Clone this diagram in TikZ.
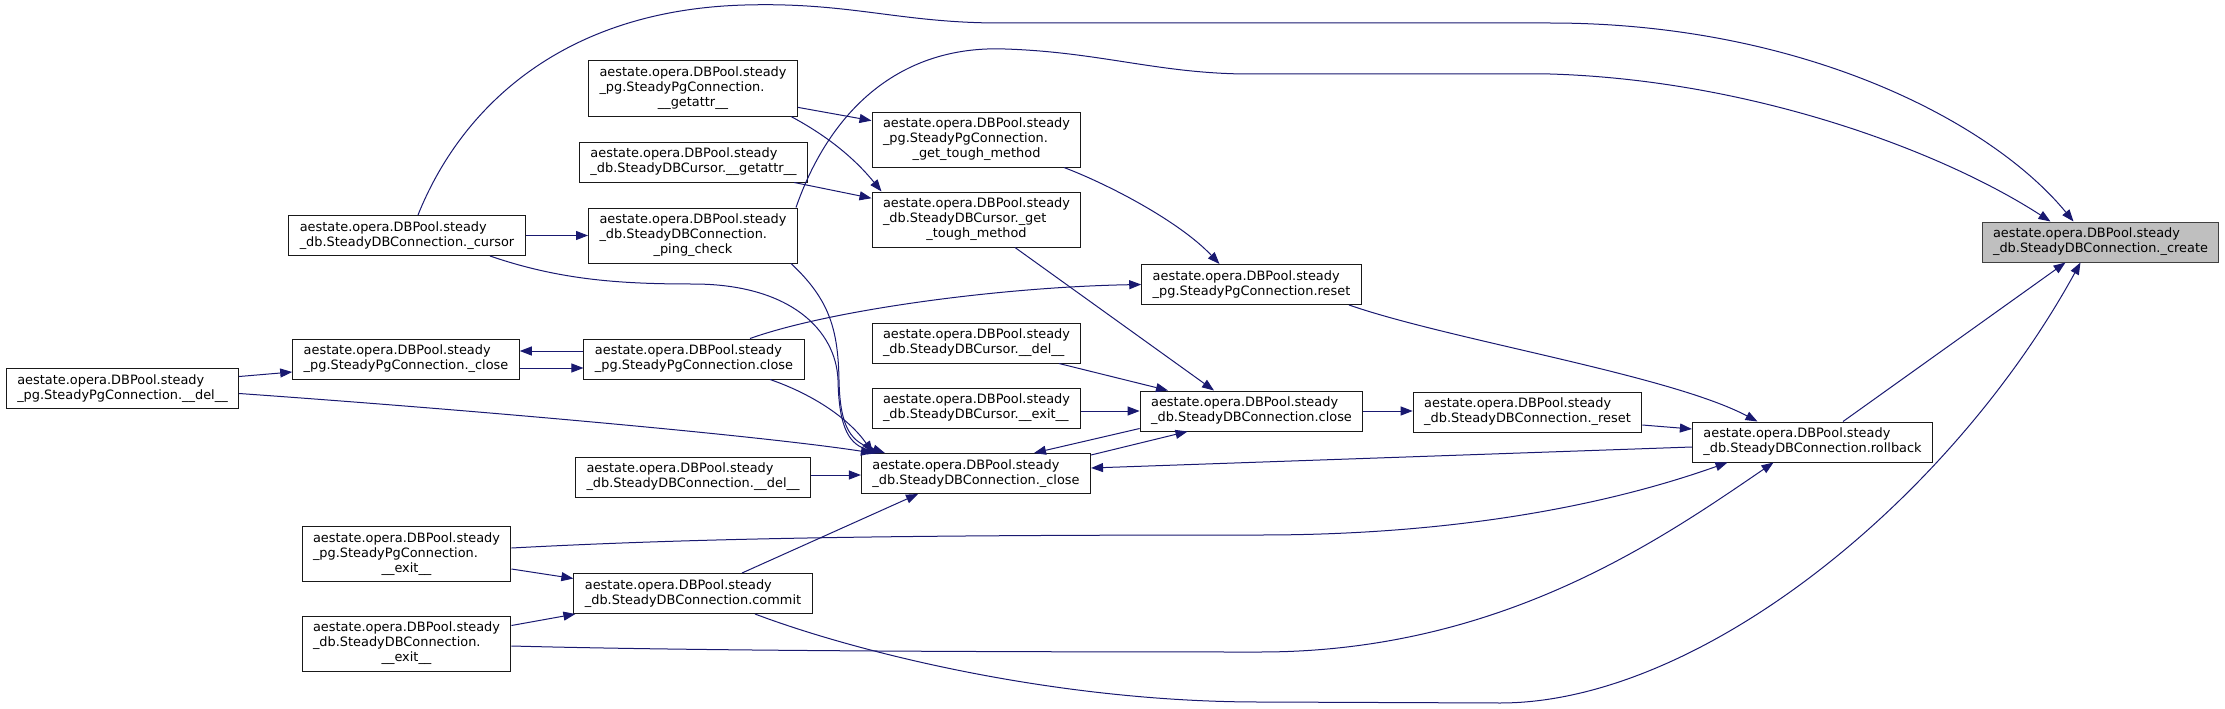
\documentclass[tikz,border=0pt]{standalone}
\usepackage{fontspec}
\setmainfont{DejaVu Sans}
\usepackage{tikz}
\usetikzlibrary{arrows.meta}
\definecolor{edgeblue}{HTML}{191970}
\definecolor{rootgray}{HTML}{BFBFBF}
\newcommand{\dbp}{aestate.opera.DBPool.steady}
\newcommand{\twol}[2]{\begin{tabular}{@{}l@{}}#1\\#2\end{tabular}}
\newcommand{\threel}[3]{\begin{tabular}{@{}l@{}}#1\\#2\\\multicolumn{1}{@{}c@{}}{#3}\end{tabular}}

\begin{document}
\begin{tikzpicture}[x=1pt,y=-1pt,
  every node/.style={font=\fontsize{12.9}{15}\selectfont},
  fn/.style={draw=black!90,fill=white,line width=1pt,inner xsep=11pt,inner ysep=5pt},
  ed/.style={draw=edgeblue,line width=1pt,-{Triangle[length=12pt,width=9pt]}}]
\useasboundingbox (0,0) rectangle (2225,709);

\node[fn,draw=black!75,fill=rootgray] (create) at (2100.5,242) {\twol{\dbp}{\_db.SteadyDBConnection.\_create}};
\node[fn] (cursor) at (407,235.5) {\twol{\dbp}{\_db.SteadyDBConnection.\_cursor}};
\node[fn] (pgGetattr) at (693,88.5) {\threel{\dbp}{\_pg.SteadyPgConnection.}{\_\_getattr\_\_}};
\node[fn] (pgTough) at (976.5,139.5) {\threel{\dbp}{\_pg.SteadyPgConnection.}{\_get\_tough\_method}};
\node[fn] (curGetattr) at (693.5,162) {\twol{\dbp}{\_db.SteadyDBCursor.\_\_getattr\_\_}};
\node[fn] (curTough) at (976.5,219.5) {\threel{\dbp}{\_db.SteadyDBCursor.\_get}{\_tough\_method}};
\node[fn] (ping) at (693,235.5) {\threel{\dbp}{\_db.SteadyDBConnection.}{\_ping\_check}};
\node[fn] (pgReset) at (1251.5,284.5) {\twol{\dbp}{\_pg.SteadyPgConnection.reset}};
\node[fn] (pgUClose) at (406,359) {\twol{\dbp}{\_pg.SteadyPgConnection.\_close}};
\node[fn] (pgClose) at (694,359) {\twol{\dbp}{\_pg.SteadyPgConnection.close}};
\node[fn] (pgDel) at (122.5,388.5) {\twol{\dbp}{\_pg.SteadyPgConnection.\_\_del\_\_}};
\node[fn] (curDel) at (976.5,343) {\twol{\dbp}{\_db.SteadyDBCursor.\_\_del\_\_}};
\node[fn] (curExit) at (976.5,408) {\twol{\dbp}{\_db.SteadyDBCursor.\_\_exit\_\_}};
\node[fn] (dbClose) at (1251.5,411) {\twol{\dbp}{\_db.SteadyDBConnection.close}};
\node[fn] (dbReset) at (1527.5,412) {\twol{\dbp}{\_db.SteadyDBConnection.\_reset}};
\node[fn] (dbDel) at (693,477) {\twol{\dbp}{\_db.SteadyDBConnection.\_\_del\_\_}};
\node[fn] (dbUClose) at (976,473.5) {\twol{\dbp}{\_db.SteadyDBConnection.\_close}};
\node[fn] (rollback) at (1812.5,442) {\twol{\dbp}{\_db.SteadyDBConnection.rollback}};
\node[fn] (pgExit) at (406.5,554) {\threel{\dbp}{\_pg.SteadyPgConnection.}{\_\_exit\_\_}};
\node[fn] (commit) at (693,593.5) {\twol{\dbp}{\_db.SteadyDBConnection.commit}};
\node[fn] (dbExit) at (406.5,643.5) {\threel{\dbp}{\_db.SteadyDBConnection.}{\_\_exit\_\_}};

% upper part
\draw[ed] (cursor) -- (ping);
\draw[ed] (pgGetattr) -- (pgTough);
\draw[ed] (curGetattr) -- (curTough);
\draw[ed] ([xshift=-7pt]pgGetattr.south east) .. controls (835,140) and (860,165) .. ([xshift=-95pt]curTough.north);
\draw[ed] ([xshift=-2pt]ping.north east) .. controls (830,110) and (900,45) .. (1005,49) .. controls (1100,52) and (1160,74) .. (1250,74) -- (1550,74) .. controls (1750,80) and (1940,150) .. ([xshift=-50pt]create.north);
\draw[ed] ([xshift=11pt]cursor.north) .. controls (460,110) and (560,10) .. (745,5) .. controls (850,2) and (900,23) .. (1000,23) -- (1550,23) .. controls (1800,23) and (1990,120) .. ([xshift=-27pt]create.north);
\draw[ed] ([xshift=87.5pt]pgTough.south) .. controls (1110,185) and (1180,222) .. ([xshift=-32pt]pgReset.north);
\draw[ed] ([xshift=38.5pt]curTough.south) -- ([xshift=-37.5pt]dbClose.north);
\draw[ed] ([xshift=56pt]pgClose.north) .. controls (830,310) and (1000,287) .. (pgReset.west);

% the close calls
\draw[ed] ([yshift=8pt]pgClose.west) -- ([yshift=8pt]pgUClose.east);
\draw[ed] ([yshift=-9pt]pgUClose.east) -- ([yshift=-9pt]pgClose.west);
\draw[ed] ([yshift=12pt]pgDel.east) -- ([yshift=-13pt]pgUClose.west);
\draw[ed] ([yshift=-5pt]pgDel.east) .. controls (500,412) and (770,437) .. ([xshift=12pt]dbUClose.north west);
\draw[ed] ([xshift=83pt]cursor.south) .. controls (560,280) and (620,284) .. (693,284) .. controls (790,284) and (836,330) .. (838,380) .. controls (839,430) and (850,445) .. ([xshift=19pt]dbUClose.north west);
\draw[ed] ([xshift=98pt]ping.south) .. controls (830,300) and (838,330) .. (839,380) .. controls (840,430) and (852,442) .. ([xshift=24pt]dbUClose.north west);
\draw[ed] ([xshift=76pt]pgClose.south) .. controls (815,395) and (850,420) .. ([xshift=12pt]dbUClose.north west);
\draw[ed] ([xshift=82.5pt]curDel.south) -- ([xshift=-83.5pt]dbClose.north);
\draw[ed] ([yshift=-3pt]curExit.east) -- ([yshift=-3pt]curExit.east -| dbClose.west);
\draw[ed] ([yshift=3pt]dbClose.south west) -- ([xshift=58pt]dbUClose.north);
\draw[ed] ([yshift=-2pt]dbUClose.north east) -- ([xshift=-64pt]dbClose.south);
\draw[ed] ([yshift=2pt]dbDel.east) -- ([yshift=2pt]dbDel.east -| dbUClose.west);
\draw[ed] (dbClose.east) -- (dbClose.east -| dbReset.west);

% rollback and commit
\draw[ed] ([yshift=-13pt]dbReset.east) -- ([yshift=13pt]rollback.west);
\draw[ed] ([xshift=97.5pt]pgReset.south) .. controls (1450,340) and (1670,375) .. ([xshift=-55pt]rollback.north);
\draw[ed] ([yshift=-5pt]rollback.west) -- ([yshift=5.5pt]dbUClose.east);
\draw[ed] ([xshift=30.5pt]rollback.north) -- ([xshift=-35pt]create.south);
\draw[ed] ([xshift=62pt]commit.south) .. controls (850,650) and (1050,702) .. (1260,702) -- (1500,703) .. controls (1700,703) and (1950,500) .. ([xshift=-20pt]create.south);
\draw[ed] ([xshift=49pt]commit.north) -- ([xshift=-58pt]dbUClose.south);
\draw[ed] ([yshift=-15pt]pgExit.east) -- ([yshift=15pt]commit.west);
\draw[ed] ([yshift=18pt]dbExit.east) -- ([xshift=2pt]commit.south west);
\draw[ed] ([yshift=6pt]pgExit.east) .. controls (700,538) and (900,535) .. (1260,535) .. controls (1500,535) and (1650,490) .. ([xshift=-85pt]rollback.south);
\draw[ed] ([yshift=-2.5pt]dbExit.east) .. controls (700,651) and (1000,652) .. (1260,652) .. controls (1500,652) and (1660,540) .. ([xshift=-39pt]rollback.south);
\end{tikzpicture}
\end{document}
